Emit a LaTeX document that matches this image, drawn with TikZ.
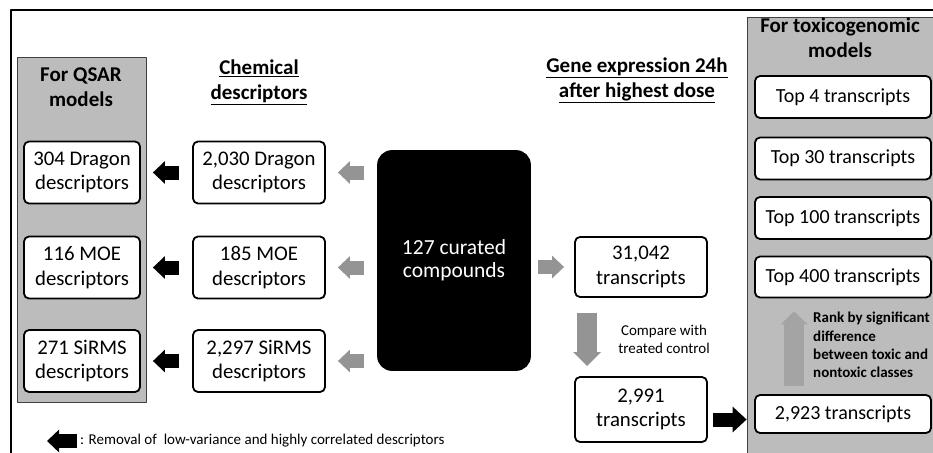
\documentclass[tikz,border=0pt]{standalone}
\usepackage{fontspec}
\setmainfont{Carlito}
\usepackage{tikz}
\usetikzlibrary{arrows.meta}

\definecolor{panelgray}{RGB}{188,188,188}
\definecolor{arrowgray}{RGB}{148,148,148}

\begin{document}
\begin{tikzpicture}[x=1pt,y=-1pt,line join=round]
  \tikzstyle{panel}=[rectangle,fill=panelgray,draw=black!75,line width=0.8pt,inner sep=0pt]
  \tikzstyle{box}=[rectangle,rounded corners=5pt,draw,line width=1.8pt,fill=white,align=center,inner sep=0pt,font=\fontsize{20.8}{24.5}\selectfont]
  \tikzstyle{head}=[align=center,font=\bfseries\fontsize{21}{25}\selectfont]
  \tikzstyle{blkarrow}=[draw=black,line width=14pt,-{Triangle[length=12pt,width=22pt]}]
  \tikzstyle{gryarrow}=[blkarrow,draw=arrowgray]

  \useasboundingbox (0,0) rectangle (933,452);
  \clip (0,0) rectangle (933,452);

  % frame
  \draw[line width=2pt] (11,470) -- (11,10) -- (950,10);

  % panels
  \node[panel,minimum width=129pt,minimum height=345pt] (qsar) at (81.5,229.5) {};
  \node[panel,minimum width=200pt,minimum height=450pt] (tox) at (847,242) {};

  \node[head] (qsarlbl) at (81,87) {For QSAR\\models};
  \node[head] (toxlbl) at (840,38) {For toxicogenomic\\models};
  \node[head] (chemlbl) at (259,82) {\underline{Chemical}\\\underline{descriptors}};
  \node[head] (genelbl) at (637,80) {\underline{Gene expression 24h}\\\underline{after highest dose}};

  % descriptors
  \node[box,minimum width=116pt,minimum height=62pt] (drg1) at (82,172.5) {304 Dragon\\descriptors};
  \node[box,minimum width=116pt,minimum height=62pt] (moe1) at (82,267.5) {116 MOE\\descriptors};
  \node[box,minimum width=116pt,minimum height=62pt] (sir1) at (82,361) {271 SiRMS\\descriptors};
  \node[box,minimum width=132pt,minimum height=62pt] (drg2) at (259,172.5) {2,030 Dragon\\descriptors};
  \node[box,minimum width=132pt,minimum height=62pt] (moe2) at (259,267.5) {185 MOE\\descriptors};
  \node[box,minimum width=132pt,minimum height=62pt] (sir2) at (259,361) {2,297 SiRMS\\descriptors};

  \node[box,fill=black,text=white,rounded corners=14pt,minimum width=152pt,minimum height=219pt,font=\fontsize{21.5}{23}\selectfont] (cmpd) at (454,260.5) {127 curated\\compounds};

  % transcripts
  \node[box,minimum width=132pt,minimum height=60pt] (t31k) at (641,267) {31,042\\transcripts};
  \node[box,minimum width=132pt,minimum height=65pt] (t2991) at (641,409.5) {2,991\\transcripts};
  \node[align=center,font=\fontsize{15}{18}\selectfont] (cmp) at (664,339) {Compare with\\treated control};

  \node[box,minimum width=176pt,minimum height=42pt,font=\fontsize{20}{24}\selectfont] (top4) at (843,97) {Top 4 transcripts};
  \node[box,minimum width=176pt,minimum height=42pt,font=\fontsize{20}{24}\selectfont] (top30) at (843,158.5) {Top 30 transcripts};
  \node[box,minimum width=176pt,minimum height=42pt,font=\fontsize{20}{24}\selectfont] (top100) at (843,218) {Top 100 transcripts};
  \node[box,minimum width=176pt,minimum height=41pt,font=\fontsize{20}{24}\selectfont] (top400) at (843,277) {Top 400 transcripts};
  \node[box,minimum width=176pt,minimum height=38pt,font=\fontsize{20}{24}\selectfont] (t2923) at (843,414) {2,923 transcripts};
  \node[anchor=north west,align=left,inner sep=0pt,font=\bfseries\fontsize{15}{18.3}\selectfont] (rank) at (813,312)
    {Rank by significant\\difference\\between toxic and\\nontoxic classes};

  % arrows
  \draw[gryarrow,shorten <=13pt,shorten >=12pt] (drg2.east -| cmpd.west) -- (drg2.east);
  \draw[gryarrow,shorten <=13pt,shorten >=12pt] (moe2.east -| cmpd.west) -- (moe2.east);
  \draw[gryarrow,shorten <=13pt,shorten >=12pt] (sir2.east -| cmpd.west) -- (sir2.east);
  \draw[blkarrow,shorten <=13pt,shorten >=12pt] (drg2) -- (drg1);
  \draw[blkarrow,shorten <=13pt,shorten >=12pt] (moe2) -- (moe1);
  \draw[blkarrow,shorten <=13pt,shorten >=12pt] (sir2) -- (sir1);

  \draw[gryarrow,shorten <=7pt,shorten >=10pt] (t31k.west -| cmpd.east) -- (t31k.west);
  \draw[gryarrow,line width=20pt,-{Triangle[length=14pt,width=27pt]},shorten <=15pt,shorten >=10pt]
    ([xshift=13pt]t31k.south west) -- ([xshift=13pt]t2991.north west);
  \draw[blkarrow,-{Triangle[length=14pt,width=25pt]},shorten <=5pt]
    ([yshift=-10pt]t2991.east) -- ([yshift=-10pt]t2991.east -| tox.west);
  \draw[gryarrow,draw=arrowgray!85,line width=20pt,-{Triangle[length=13pt,width=26pt]},shorten <=8pt,shorten >=13pt]
    ([xshift=40pt]t2923.north west) -- ([xshift=40pt]top400.south west);

  % legend
  \coordinate (lgA) at (77,441);
  \coordinate (lgB) at (47,441);
  \draw[blkarrow] (lgA) -- (lgB);
  \node[anchor=west,inner sep=0pt,font=\fontsize{15}{18}\selectfont] (lgtxt) at (80,441) {: Removal of\ \ low-variance and highly correlated descriptors};
\end{tikzpicture}
\end{document}
